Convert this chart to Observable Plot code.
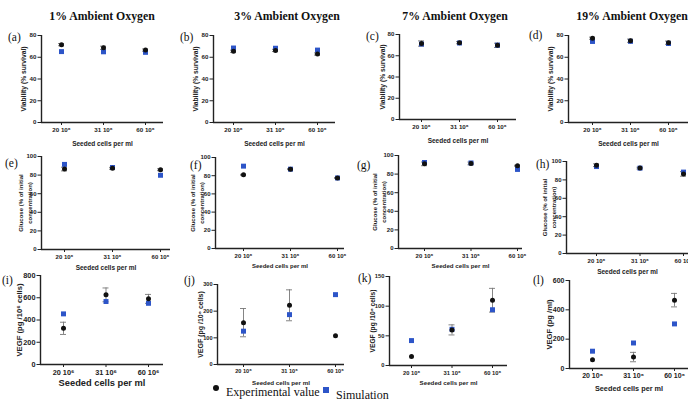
<!DOCTYPE html>
<html><head><meta charset="utf-8">
<script src="https://cdn.jsdelivr.net/npm/d3@7"></script>
<script src="https://cdn.jsdelivr.net/npm/@observablehq/plot@0.6"></script>
<style>
html,body{margin:0;padding:0;background:#fff;overflow:hidden}
#root{position:relative;width:688px;height:401px;overflow:hidden;background:#fff}
.t{position:absolute;font-family:"Liberation Serif","Times New Roman",serif;font-weight:bold;font-size:11.8px;white-space:nowrap;transform:translateX(-50%);color:#111;line-height:14px}
.l{position:absolute;font-family:"Liberation Serif","Times New Roman",serif;font-size:11.5px;color:#111;line-height:14px;white-space:nowrap}
.lg{position:absolute;font-family:"Liberation Serif","Times New Roman",serif;font-size:12px;color:#111;line-height:14px;white-space:nowrap}
</style></head>
<body><div id="root"></div>
<script>
// ---------- data ----------
const seededCells = ["20 10⁶", "31 10⁶", "60 10⁶"];
const oxygenLevels = ["1% Ambient Oxygen", "3% Ambient Oxygen", "7% Ambient Oxygen", "19% Ambient Oxygen"];
const panelLetters = ["(a)","(b)","(c)","(d)","(e)","(f)","(g)","(h)","(i)","(j)","(k)","(l)"];
const xLabel = "Seeded cells per ml";
const yLabels = [
  ["Viability (% survival)","Viability (% survival)","Viability (% survival)","Viability (% survival)"],
  ["Glucose (% of initial\nconcentration)","Glucose (% of initial\nconcentration)","Glucose (% of initial\nconcentration)","Glucose (% of initial\nconcentration)"],
  ["VEGF (pg /10⁶ cells)","VEGF (pg /10⁶ cells)","VEGF (pg /10⁶ cells)","VEGF (pg /ml)"]
];
const legendLabels = ["Experimental value", "Simulation"];

// per oxygen level (1%, 3%, 7%, 19%), per seeding density
const viabilityExp    = [[71.6,68.7,66.6],[65.5,66.3,63.0],[71.5,72.3,69.8],[77.5,75.2,73.4]];
const viabilityExpErr = [[1.0,1.5,1.0],[1.0,1.0,1.0],[2.5,1.0,2.0],[1.0,1.5,1.5]];
const viabilitySim    = [[65.2,65.0,64.5],[68.5,68.3,66.6],[71.0,72.0,70.0],[74.5,74.6,72.6]];

const glucoseExp    = [[86.5,87.3,85.8],[81.0,87.2,77.5],[91.0,91.5,89.0],[96.0,92.8,86.5]];
const glucoseExpErr = [[2.0,1.0,1.0],[0.5,0.5,0.5],[2.0,1.5,0.5],[1.5,1.0,2.5]];
const glucoseSim    = [[91.5,88.2,79.8],[90.5,87.2,77.5],[92.5,92.0,85.0],[94.5,92.8,88.5]];

const vegfExp    = [[325,626,590],[157,222,108],[15,60,110],[60,78,466]];
const vegfExpErr = [[55,62,40],[53,58,0],[0,8.5,20],[0,32,46]];
const vegfSim    = [[455,566,550],[125,187,262],[42,61,94],[118,174,304]];

const expSeries = [viabilityExp, glucoseExp, vegfExp];
const errSeries = [viabilityExpErr, glucoseExpErr, vegfExpErr];
const simSeries = [viabilitySim, glucoseSim, vegfSim];

const expColor = "#111111";
const simColor = "#2d55c8";

// ---------- layout (pixel geometry of each panel) ----------
const layout = [
  {x0:41, x1:163, yTop:35, yBot:122, t0:61, t2:145, ymax:80, step:20, ldx:-19, yf:6.7, tf:6.2, xf:6.5, xdy:21},
  {x0:213,x1:335, yTop:35, yBot:122, t0:233,t2:317, ymax:80, step:20, ldx:-19, yf:6.7, tf:6.2, xf:6.5, xdy:21},
  {x0:399,x1:516, yTop:34, yBot:119, t0:421,t2:497, ymax:80, step:20, ldx:-18, yf:6.7, tf:6.2, xf:6.5, xdy:21},
  {x0:568,x1:688, yTop:35, yBot:122, t0:592,t2:668, ymax:80, step:20, ldx:-19, yf:6.7, tf:6.2, xf:6.5, xdy:21},
  {x0:41, x1:170, yTop:156,yBot:249, t0:64, t2:160, ymax:100,step:20, ldx:-17, yf:6.0, tf:6.0, xf:6.5, xdy:18},
  {x0:215,x1:344, yTop:157,yBot:248, t0:243,t2:337, ymax:100,step:20, ldx:-19, yf:6.0, tf:6.0, xf:6.0, xdy:18},
  {x0:398,x1:522, yTop:155,yBot:248, t0:424,t2:517, ymax:100,step:20, ldx:-20, yf:6.0, tf:6.0, xf:6.2, xdy:18},
  {x0:566,x1:688, yTop:161,yBot:253, t0:596,t2:683, ymax:100,step:20, ldx:-18, yf:6.0, tf:6.0, xf:6.5, xdy:18},
  {x0:40, x1:163, yTop:275,yBot:364, t0:63, t2:148, ymax:800,step:200,ldx:-22, yf:7.7, tf:7.3, xf:9.3, xdy:19},
  {x0:217,x1:344, yTop:284,yBot:364, t0:243,t2:335, ymax:300,step:100,ldx:-18, yf:7.0, tf:5.6, xf:6.2, xdy:19},
  {x0:389,x1:507, yTop:276,yBot:365, t0:411,t2:492, ymax:150,step:50, ldx:-18, yf:6.6, tf:5.8, xf:6.2, xdy:18},
  {x0:569,x1:688, yTop:280,yBot:368, t0:592,t2:674, ymax:600,step:200,ldx:-21, yf:7.6, tf:7.0, xf:7.3, xdy:20}
];
const letterPos = [[8,30],[180,30],[366,29],[529,28],[5,156],[190,158],[357,158],[536,157],[2,273],[184,273],[358,271],[533,273]];
const titleCenters = [102, 287, 455, 632];

const root = document.getElementById("root");

layout.forEach((g, k) => {
  const row = Math.floor(k / 4), col = k % 4;
  const exp = expSeries[row][col], err = errSeries[row][col], sim = simSeries[row][col];
  const s = (g.t2 - g.t0) / 2;
  const dmin = (g.x0 - g.t0) / s, dmax = 2 + (g.x1 - g.t2) / s;
  const ml = 48, mr = 6, mt = 6, mb = 30;
  const W = g.x1 - g.x0 + ml + mr, H = g.yBot - g.yTop + mt + mb;
  const expData = seededCells.map((c, i) => ({i, v: exp[i], lo: exp[i] - err[i], hi: exp[i] + err[i], e: err[i]}));
  const simData = seededCells.map((c, i) => ({i, v: sim[i]}));
  const errData = expData.filter(d => d.e > 0);
  const cw = 3 / s;
  const svg = Plot.plot({
    width: W, height: H, marginLeft: ml, marginRight: mr, marginTop: mt, marginBottom: mb,
    style: `background:transparent;overflow:visible;font-family:'Liberation Sans',Arial,sans-serif;font-weight:bold;font-size:${g.tf}px;color:#222;`,
    x: {type: "linear", domain: [dmin, dmax], ticks: [0, 1, 2], tickFormat: i => seededCells[i], tickSize: 3, tickPadding: 2, label: null},
    y: {domain: [0, g.ymax], ticks: d3.range(0, g.ymax + 1e-6, g.step), tickSize: 3.5, tickPadding: 1.5, label: null},
    marks: [
      Plot.ruleY([0], {stroke: "#222", strokeWidth: 1.4}),
      Plot.ruleX([dmin], {stroke: "#222", strokeWidth: 1.4}),
      Plot.ruleX(errData, {x: "i", y1: "lo", y2: "hi", stroke: "#777", strokeWidth: 0.9}),
      Plot.ruleY(errData, {y: "hi", x1: d => d.i - cw, x2: d => d.i + cw, stroke: "#777", strokeWidth: 0.9}),
      Plot.ruleY(errData, {y: "lo", x1: d => d.i - cw, x2: d => d.i + cw, stroke: "#777", strokeWidth: 0.9}),
      Plot.dot(simData, {x: "i", y: "v", symbol: "square", r: 2.8, fill: simColor, stroke: "none"}),
      Plot.dot(expData, {x: "i", y: "v", r: 2.5, fill: expColor, stroke: "none"}),
      Plot.text([yLabels[row][col]], {text: d => d, frameAnchor: "left", textAnchor: "middle", lineAnchor: "middle", rotate: -90, dx: g.ldx, fontSize: g.yf, lineHeight: 1.5, fill: "#222"}),
      Plot.text([xLabel], {text: d => d, frameAnchor: "bottom", textAnchor: "middle", lineAnchor: "middle", dy: g.xdy, fontSize: g.xf, fill: "#222"})
    ]
  });
  svg.style.position = "absolute";
  svg.style.left = (g.x0 - ml) + "px";
  svg.style.top = (g.yTop - mt) + "px";
  svg.style.maxWidth = "none";
  root.appendChild(svg);

  const lt = document.createElement("div");
  lt.className = "l";
  lt.textContent = panelLetters[k];
  lt.style.left = letterPos[k][0] + "px";
  lt.style.top = letterPos[k][1] + "px";
  root.appendChild(lt);
});

oxygenLevels.forEach((t, i) => {
  const d = document.createElement("div");
  d.className = "t";
  d.textContent = t;
  d.style.left = titleCenters[i] + "px";
  d.style.top = "9px";
  root.appendChild(d);
});

// legend
const dot = document.createElement("div");
dot.style.cssText = `position:absolute;left:213px;top:385px;width:6px;height:6px;border-radius:50%;background:${expColor}`;
root.appendChild(dot);
const l1 = document.createElement("div");
l1.className = "lg"; l1.textContent = legendLabels[0];
l1.style.left = "226px"; l1.style.top = "385px";
root.appendChild(l1);
const sq = document.createElement("div");
sq.style.cssText = `position:absolute;left:323px;top:387px;width:6px;height:6px;background:${simColor}`;
root.appendChild(sq);
const l2 = document.createElement("div");
l2.className = "lg"; l2.textContent = legendLabels[1];
l2.style.left = "336px"; l2.style.top = "388px";
root.appendChild(l2);
</script>
</body></html>
